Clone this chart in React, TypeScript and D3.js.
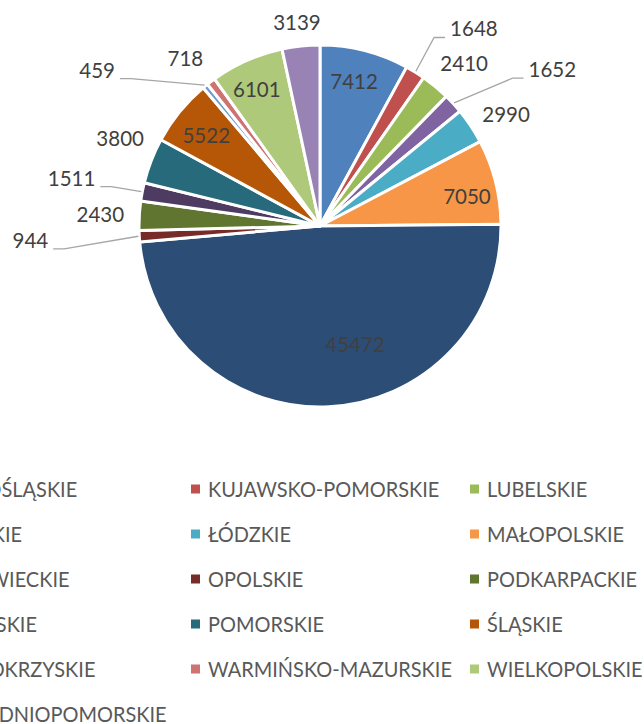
import React, { useEffect, useRef } from "react";
import * as d3 from "d3";

const regions = [
  "DOLNOŚLĄSKIE", "KUJAWSKO-POMORSKIE", "LUBELSKIE", "LUBUSKIE", "ŁÓDZKIE", "MAŁOPOLSKIE",
  "MAZOWIECKIE", "OPOLSKIE", "PODKARPACKIE", "PODLASKIE", "POMORSKIE", "ŚLĄSKIE",
  "ŚWIĘTOKRZYSKIE", "WARMIŃSKO-MAZURSKIE", "WIELKOPOLSKIE", "ZACHODNIOPOMORSKIE",
];
const values = [7412, 1648, 2410, 1652, 2990, 7050, 45472, 944, 2430, 1511, 3800, 5522, 459, 718, 6101, 3139];
const colors = [
  "#4F81BD", "#C0504D", "#9BBB59", "#8064A2", "#4BACC6", "#F79646",
  "#2C4D75", "#772C2A", "#5F7530", "#4D3B62", "#276A7C", "#B65708",
  "#729ACA", "#CD7371", "#AFC97A", "#9983B5",
];
// label placement: radius (px) and angular offset (deg) from slice middle; leader flag
const labelRadius = [148, 250, 217, 280, 217, 150, 124, 290, 220, 253, 218, 145, 272, 215, 150, 205];
const labelAngleOffset = [-1, 6.2, 2.0, 8.6, 2.6, 2.7, -13.6, 0.4, -0.4, 0, 2.4, -0.8, -15.7, -1.7, -1.0, -0.4];
const labelLeader = [false, true, false, true, false, false, false, true, false, true, false, false, true, false, false, false];

const W = 644, H = 724;
const CX = 320, CY = 226, R = 181;
const FONT = "Lato, 'Open Sans', sans-serif";

export default function App() {
  const ref = useRef<SVGSVGElement>(null);
  useEffect(() => {
    const svg = d3.select(ref.current);
    svg.selectAll("*").remove();
    const data = regions.map((name, i) => ({ name, value: values[i], i }));
    const pie = d3.pie<any>().sort(null).value((d: any) => d.value);
    const arcs = pie(data);
    const arc = d3.arc<any>().innerRadius(0).outerRadius(R);
    const g = svg.append("g").attr("transform", `translate(${CX},${CY})`);
    g.selectAll("path.slice").data(arcs).enter().append("path")
      .attr("class", "slice")
      .attr("d", arc as any)
      .attr("fill", (d: any) => colors[d.data.i])
      .attr("stroke", "#fff").attr("stroke-width", 3).attr("stroke-linejoin", "round");

    arcs.forEach((a: any) => {
      const i = a.data.i;
      const mid = (a.startAngle + a.endAngle) / 2;
      const ang = mid + (labelAngleOffset[i] * Math.PI) / 180;
      const lx = labelRadius[i] * Math.sin(ang);
      const ly = -labelRadius[i] * Math.cos(ang);
      const t = g.append("text")
        .attr("x", lx).attr("y", ly + 7.4)
        .attr("text-anchor", "middle")
        .attr("font-family", FONT).attr("font-size", 20.5)
        .attr("fill", "#404040")
        .text(String(values[i]));
      if (labelLeader[i]) {
        const w = (t.node() as SVGTextElement).getComputedTextLength();
        const right = lx > 0;
        const edgeX = right ? lx - w / 2 - 5 : lx + w / 2 + 5;
        const elbowX = right ? edgeX - 11 : edgeX + 11;
        const yy = ly + 8.5;
        const px = (R + 1) * Math.sin(mid), py = -(R + 1) * Math.cos(mid);
        g.insert("path", "text")
          .attr("d", `M${edgeX},${yy}L${elbowX},${yy}L${px},${py}`)
          .attr("fill", "none").attr("stroke", "#A6A6A6").attr("stroke-width", 1.3);
      }
    });

    const legend = svg.append("g");
    const colX0 = -88, colStep = 279, rowY0 = 489, rowStep = 45;
    regions.forEach((name, i) => {
      const col = i % 3, row = Math.floor(i / 3);
      const x = colX0 + col * colStep, y = rowY0 + row * rowStep;
      legend.append("rect").attr("x", x).attr("y", y - 4.5).attr("width", 9).attr("height", 9).attr("fill", colors[i]);
      legend.append("text")
        .attr("transform", `translate(${x + 17},${y + 7.6}) scale(0.95,1)`)
        .attr("font-family", FONT).attr("font-size", 21).attr("fill", "#595959")
        .text(name);
    });
  }, []);
  return (
    <svg ref={ref} width={W} height={H} style={{ position: "absolute", left: 0, top: 0, background: "#fff" }} />
  );
}
